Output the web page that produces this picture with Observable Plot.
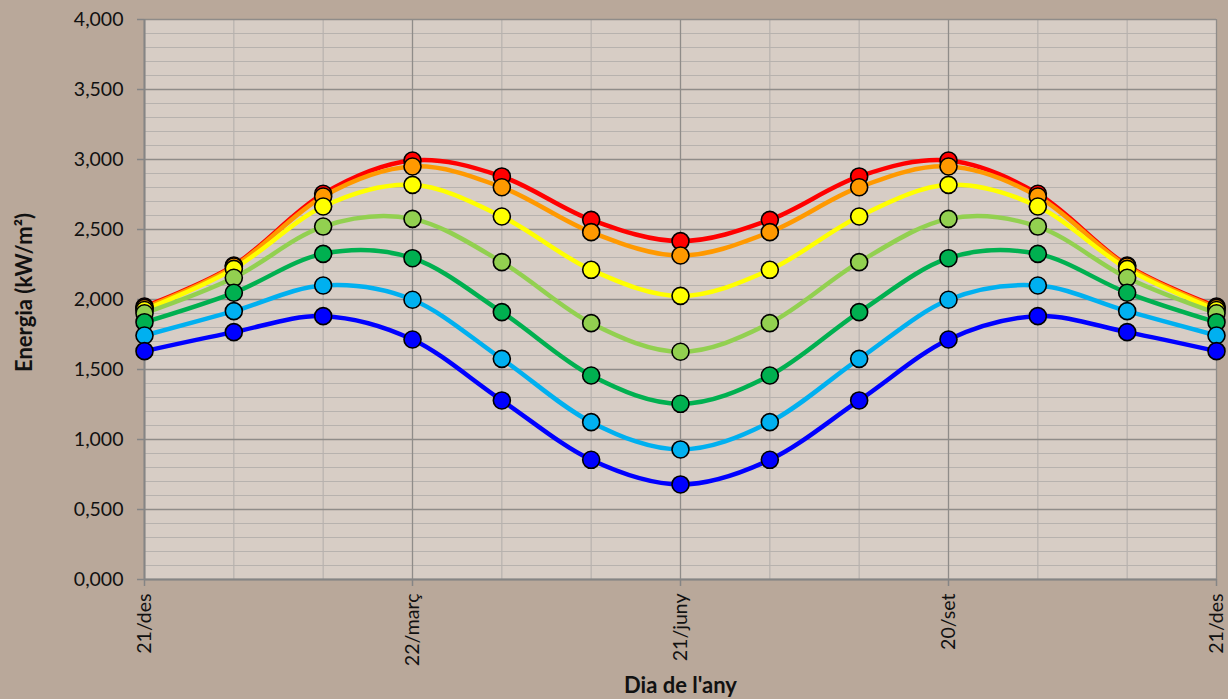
<!DOCTYPE html>
<html><head><meta charset="utf-8">
<script src="https://cdn.jsdelivr.net/npm/d3@7"></script>
<script src="https://cdn.jsdelivr.net/npm/@observablehq/plot@0.6"></script>
<style>
html,body{margin:0;padding:0;background:#b9a89a;overflow:hidden;}
</style></head><body><div id="chart"></div>
<script>
// Categories (13 sample days across the year); only some are labelled
const dayIndex = [0,1,2,3,4,5,6,7,8,9,10,11,12];
const dayLabels = ["21/des","","","22/març","","","21/juny","","","20/set","","","21/des"];
const labelledDays = [0,3,6,9,12];

// Series (energy, kW/m², shown with decimal comma)
const seriesNames = ["Sèrie 1","Sèrie 2","Sèrie 3","Sèrie 4","Sèrie 5","Sèrie 6","Sèrie 7"];
const seriesColors = ["#ff0000","#ff9900","#ffff00","#92d050","#00b050","#00b0f0","#0000ff"];
const s1 = [1.950,2.243,2.755,2.993,2.879,2.569,2.417,2.569,2.879,2.993,2.755,2.243,1.950];
const s2 = [1.940,2.236,2.736,2.950,2.802,2.481,2.314,2.481,2.802,2.950,2.736,2.236,1.940];
const s3 = [1.925,2.219,2.664,2.819,2.593,2.212,2.026,2.212,2.593,2.819,2.664,2.219,1.925];
const s4 = [1.902,2.155,2.521,2.576,2.267,1.831,1.627,1.831,2.267,2.576,2.521,2.155,1.902];
const s5 = [1.838,2.048,2.326,2.295,1.910,1.457,1.255,1.457,1.910,2.295,2.326,2.048,1.838];
const s6 = [1.743,1.917,2.100,1.998,1.576,1.124,0.929,1.124,1.576,1.998,2.100,1.917,1.743];
const s7 = [1.631,1.767,1.881,1.714,1.279,0.855,0.679,0.855,1.279,1.714,1.881,1.767,1.631];
const seriesValues = [s1,s2,s3,s4,s5,s6,s7];

// Axis ticks
const yMajorTicks = [0,0.5,1,1.5,2,2.5,3,3.5,4];
const yMinorTicks = [0.1,0.2,0.3,0.4,0.6,0.7,0.8,0.9,1.1,1.2,1.3,1.4,1.6,1.7,1.8,1.9,2.1,2.2,2.3,2.4,2.6,2.7,2.8,2.9,3.1,3.2,3.3,3.4,3.6,3.7,3.8,3.9];
const xMinorTicks = [1,2,4,5,7,8,10,11];

const rows = [];
seriesNames.forEach((name, i) => {
  dayIndex.forEach((d, j) => rows.push({series: name, day: d, value: seriesValues[i][j]}));
});

const fmt = v => v.toFixed(3).replace(".", ",");
const font = "Lato, 'Open Sans', sans-serif";

const chart = Plot.plot({
  width: 1228, height: 699,
  marginLeft: 144, marginRight: 12, marginTop: 19, marginBottom: 120,
  style: {background: "#b9a89a", fontFamily: font, fontSize: "19px", color: "#111"},
  x: {domain: [0, 12], axis: null},
  y: {domain: [0, 4], axis: null},
  color: {domain: seriesNames, range: seriesColors},
  marks: [
    Plot.frame({fill: "#d7cdc5", stroke: null}),
    Plot.ruleY(yMinorTicks, {stroke: "#b7b2ae", strokeWidth: 1.2}),
    Plot.ruleX(xMinorTicks, {stroke: "#b7b2ae", strokeWidth: 1.2}),
    Plot.ruleY(yMajorTicks, {stroke: "#8f8c89", strokeWidth: 1.3}),
    Plot.ruleX(labelledDays, {stroke: "#8f8c89", strokeWidth: 1.3}),
    Plot.ruleX([0], {stroke: "#858585", strokeWidth: 2}),
    Plot.ruleY([0], {stroke: "#858585", strokeWidth: 2}),
    Plot.axisY({ticks: yMajorTicks, tickFormat: fmt, tickSize: 7, tickPadding: 14, stroke: "#858585", strokeWidth: 1.5, label: null, fontSize: 19.5}),
    Plot.axisX({ticks: labelledDays, tickFormat: i => dayLabels[i], tickRotate: -90, tickSize: 7, tickPadding: 7, stroke: "#858585", strokeWidth: 1.5, label: null, fontSize: 19.5}),
    Plot.line(rows, {x: "day", y: "value", z: "series", stroke: "series", strokeWidth: 4.5, curve: "cardinal"}),
    Plot.dot(rows, {x: "day", y: "value", fill: "series", stroke: "black", strokeWidth: 1.6, r: 8.5}),
    Plot.text(["Dia de l'any"], {text: d => d, frameAnchor: "bottom", textAnchor: "middle", lineAnchor: "bottom", dy: 113, fontWeight: "bold", fontSize: 22, fill: "#111"}),
    Plot.text(["Energia (kW/m²)"], {text: d => d, frameAnchor: "left", textAnchor: "middle", lineAnchor: "middle", dx: -120, dy: -7, rotate: -90, fontWeight: "bold", fontSize: 22, fill: "#111"})
  ]
});
document.getElementById("chart").appendChild(chart);
</script>
</body></html>
